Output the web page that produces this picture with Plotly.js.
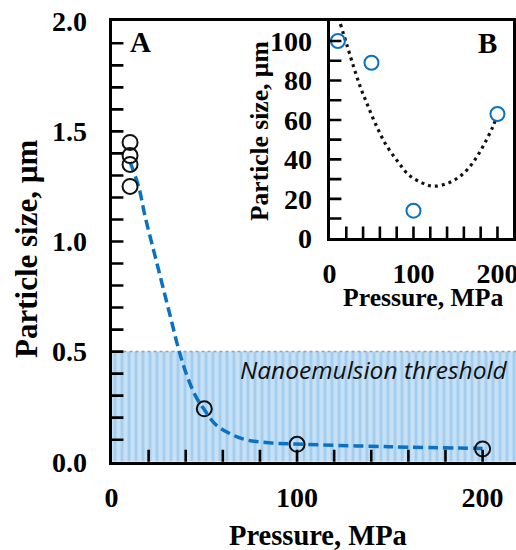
<!DOCTYPE html>
<html>
<head>
<meta charset="utf-8">
<script src="https://cdn.plot.ly/plotly-3.0.1.min.js"></script>
<style>html,body{margin:0;padding:0;background:#fff;}#chart{width:516px;height:550px;}</style>
</head>
<body>
<div id="chart"></div>
<script>
// Panel A: measured particle size (µm) vs pressure (MPa)
const pressureA = [10, 10, 10, 10, 50, 100, 200];
const sizeA = [1.45, 1.39, 1.35, 1.25, 0.24, 0.079, 0.058];
// Panel A: dashed fitted curve
const fitPressureA = [10, 14.6, 18.2, 22.7, 27.2, 31.7, 36.2, 40.7, 45.2, 49.7, 56, 63.2, 72.3, 84.9, 99.3, 150, 200];
const fitSizeA = [1.36, 1.25, 1.11, 0.96, 0.81, 0.66, 0.51, 0.39, 0.30, 0.24, 0.17, 0.13, 0.10, 0.086, 0.080, 0.068, 0.060];
// Nanoemulsion threshold band
const thresholdPressure = [0, 230];
const thresholdSize = [0.5, 0.5];
const thresholdLabel = "Nanoemulsion threshold";
// Panel B: particle size (µm) vs pressure (MPa)
const pressureB = [10, 50, 100, 200];
const sizeB = [100, 89, 14, 63];
// Panel B: dotted fitted curve
const fitPressureB = [13, 21, 29, 37, 45, 55, 67, 81, 94, 110, 124, 142, 158, 172, 184, 194, 198];
const fitSizeB = [108.6, 97.6, 86.6, 76.4, 67.9, 57.8, 47.6, 39.1, 32.3, 28.1, 26.4, 28.1, 32.3, 39.1, 47.6, 56.1, 60.3];
// Tick labels
const ticksAx = [0, 100, 200];
const ticksAy = [0.0, 0.5, 1.0, 1.5, 2.0];
const ticksBx = [0, 100, 200];
const ticksBy = [0, 20, 40, 60, 80, 100];
// Titles
const xTitle = "Pressure, MPa";
const yTitle = "Particle size, µm";

const serif = "Liberation Serif, Times New Roman, serif";
const blue = "#0a72c4";

// tick-mark positions along each axis (every step)
function stepVals(step, hi) {
  const out = [];
  for (let i = 1; i * step <= hi + 1e-9; i++) out.push(+(i * step).toFixed(6));
  return out;
}
const marksAx = stepVals(20, 200), marksAy = stepVals(0.1, 1.9);
const marksBx = stepVals(20, 200), marksBy = stepVals(10, 100);
// inside tick marks: a line marker centred on the axis; the half outside the plot area is clipped away
function tickTrace(xs, ys, sym, xa, ya) {
  return {x: xs, y: ys, type: "scatter", mode: "markers", cliponaxis: true, hoverinfo: "skip",
    marker: {symbol: sym, size: 17, color: "#000", line: {color: "#000", width: 2.6}}, xaxis: xa, yaxis: ya};
}

const traces = [
  {x: thresholdPressure, y: thresholdSize, type: "scatter", mode: "lines", fill: "tozeroy",
   fillcolor: "#c3def4",
   fillpattern: {shape: "|", fgcolor: "#a3ccee", bgcolor: "#c6e1f5", size: 7, solidity: 0.4},
   line: {color: "#a0a0a0", width: 1.5, dash: "dot"}, xaxis: "x", yaxis: "y", hoverinfo: "skip"},
  {x: fitPressureA, y: fitSizeA, type: "scatter", mode: "lines", line: {color: blue, width: 3.5, dash: "10px,5px", shape: "spline"}, xaxis: "x", yaxis: "y"},
  {x: pressureA, y: sizeA, type: "scatter", mode: "markers", marker: {symbol: "circle-open", size: 15, color: "#111", line: {width: 2}}, xaxis: "x", yaxis: "y"},
  {x: fitPressureB, y: fitSizeB, type: "scatter", mode: "lines", line: {color: "#111", width: 3.2, dash: "3px,4px", shape: "spline"}, xaxis: "x2", yaxis: "y2"},
  {x: pressureB, y: sizeB, type: "scatter", mode: "markers", marker: {symbol: "circle-open", size: 14, color: blue, line: {width: 2}}, xaxis: "x2", yaxis: "y2"},
  tickTrace(marksAx, marksAx.map(() => 0), "line-ns", "x", "y"),
  tickTrace(marksAy.map(() => 0), marksAy, "line-ew", "x", "y"),
  tickTrace(marksBx, marksBx.map(() => 0), "line-ns", "x2", "y2"),
  tickTrace(marksBy.map(() => 0), marksBy, "line-ew", "x2", "y2")
];

const tickFont = {family: serif, size: 28, weight: "bold", color: "#000"};
// labelled axes: line + labels; the axis' own ticks are transparent and outside (they only space the labels)
function axis(extra) {
  return Object.assign({showline: true, linewidth: 3, linecolor: "#000", showgrid: false, zeroline: false,
    ticks: "outside", tickcolor: "rgba(0,0,0,0)", tickwidth: 1, automargin: false, ticklabeloverflow: "allow",
    tickfont: tickFont, tickmode: "array", layer: "above traces"}, extra);
}

const layout = {
  width: 516, height: 550, margin: {l: 0, r: 0, t: 0, b: 0},
  paper_bgcolor: "#fff", plot_bgcolor: "rgba(0,0,0,0)", showlegend: false,
  xaxis: axis({domain: [111.5/516, 1], range: [0, 218], anchor: "y", mirror: true,
    tickvals: ticksAx, ticktext: ticksAx.map(String), ticklen: 9}),
  yaxis: axis({domain: [(550-461.7)/550, (550-21.3)/550], range: [0, 2], anchor: "x",
    tickvals: ticksAy, ticktext: ticksAy.map(v => v.toFixed(1)), ticklen: 16}),
  xaxis2: axis({domain: [329.5/516, 513/516], range: [0, 218.5], anchor: "y2", mirror: true,
    tickvals: ticksBx, ticktext: ticksBx.map(String), ticklen: 8}),
  yaxis2: axis({domain: [(550-238.3)/550, (550-21.3)/550], range: [0, 110], anchor: "x2", mirror: true,
    tickvals: ticksBy, ticktext: ticksBy.map(String), ticklen: 9}),
  annotations: [
    {text: xTitle, xref: "paper", yref: "paper", x: 317.5/516, y: 1-535/550, xanchor: "center", yanchor: "middle", showarrow: false,
     font: {family: serif, size: 28.5, weight: "bold", color: "#000"}},
    {text: yTitle, xref: "paper", yref: "paper", x: 27/516, y: 1-249/550, xanchor: "center", yanchor: "middle", textangle: -90, showarrow: false,
     font: {family: serif, size: 31, weight: "bold", color: "#000"}},
    {text: xTitle, xref: "paper", yref: "paper", x: 423/516, y: 1-297/550, xanchor: "center", yanchor: "middle", showarrow: false,
     font: {family: serif, size: 25.7, weight: "bold", color: "#000"}},
    {text: yTitle, xref: "paper", yref: "paper", x: 259/516, y: 1-131/550, xanchor: "center", yanchor: "middle", textangle: -90, showarrow: false,
     font: {family: serif, size: 25.5, weight: "bold", color: "#000"}},
    {text: thresholdLabel, xref: "x", yref: "y", x: 215, y: 0.42, xanchor: "right", yanchor: "middle", showarrow: false,
     font: {family: "Open Sans, sans-serif", size: 24.5, style: "italic", color: "#111"}},
    {text: "A", xref: "x", yref: "y", x: 15.4, y: 1.906, showarrow: false,
     font: {family: serif, size: 29, weight: "bold", color: "#000"}},
    {text: "B", xref: "x2", yref: "y2", x: 188.7, y: 99, showarrow: false,
     font: {family: serif, size: 29, weight: "bold", color: "#000"}}
  ]
};

Plotly.newPlot("chart", traces, layout, {staticPlot: true, displayModeBar: false});
</script>
</body>
</html>
